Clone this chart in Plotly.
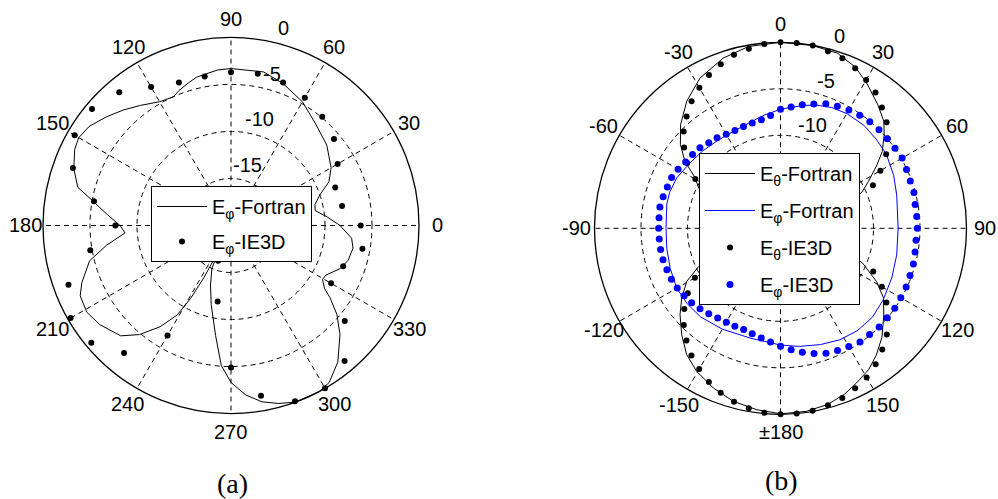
import math
import plotly.graph_objects as go

# ---------------- (a) data ----------------
a_fortran_theta = [0, 5, 10, 14, 19, 24, 30, 40, 50, 60, 70, 78, 90, 95, 103, 106, 111, 114, 120, 127,
                   133, 139, 145, 150, 154, 160, 166, 170, 175, 180, 184, 189, 194, 201, 205, 211, 217,
                   225, 230, 235, 239, 241, 242.5, 244, 246, 251, 256, 262, 266, 270, 275, 280, 285,
                   290, 298, 302, 308, 315, 320, 324, 326, 329.5, 332.5, 338.5, 343.5, 349.5, 354, 360]
a_fortran_db = [-8.4, -9.7, -10.9, -10.8, -10.0, -8.6, -7.7, -6.7, -5.95, -4.8, -3.9, -3.3, -3.3, -3.4,
                -3.8, -4.1, -4.6, -5.0, -4.8, -4.0, -3.2, -2.4, -1.6, -1.3, -1.5, -2.2, -3.2, -5.1,
                -6.8, -8.2, -8.7, -6.6, -4.5, -3.0, -2.3, -2.1, -2.5, -3.4, -4.85, -6.85, -8.9, -11.1,
                -13.7, -17.0, -15.0, -13.3, -11.3, -8.2, -5.1, -3.3, -1.9, -0.95, -0.4, 0.0, 0.0,
                -0.3, -1.55, -3.6, -5.3, -7.0, -8.0, -8.7, -8.6, -7.5, -7.0, -6.8, -7.1, -8.4]

a_ie3d_theta = list(range(0, 360, 10))
a_ie3d_db = [-6.2, -8.0, -8.2, -6.9, -5.7, -4.9, -4.3, -3.8, -3.6, -3.7, -3.9, -3.8, -3.0, -1.5,
             -0.7, -0.8, -2.1, -5.2, -7.7, -4.8, -1.6, -0.3, -0.6, -2.3, -6.5, -16.0, -11.8, -4.9,
             -1.6, -0.1, 0.0, -1.2, -4.2, -7.7, -7.3, -5.8]

a_theta_ticks = list(range(0, 360, 30))
a_theta_labels = [str(v) for v in a_theta_ticks]
a_r_label_vals = [-15, -10, -5, 0]

# ---------------- (b) data ----------------
b_theta_fortran_theta = [0, 10, 18, 25, 31, 38, 44, 48, 53, 57, 62, 66, 72, 80, 90, 100, 108, 113, 119,
                         124, 130, 137, 143, 148, 154, 159, 165, 172, 180, 187.5, 195.3, 202.8, 210.4,
                         216.6, 222.9, 229.3, 234.8, 240.5, 245, 252, 262, 270, 278, 288, 295.3, 301,
                         305, 310, 316, 323.6, 331.8, 341.4, 350, 360]
b_theta_fortran_db = [0.0, -0.05, -0.2, -0.9, -1.9, -3.05, -4.0, -5.0, -6.3, -7.7, -9.3, -10.4, -13.0,
                      -17.0, -20.0, -17.0, -13.0, -10.4, -8.2, -6.65, -5.5, -4.0, -2.9, -2.1, -1.45,
                      -0.87, -0.39, -0.12, -0.05, -0.33, -0.72, -1.37, -2.18, -3.08, -4.39, -5.75,
                      -7.0, -8.42, -10.3, -13.0, -17.0, -20.0, -17.0, -13.0, -10.4, -9.2, -7.45,
                      -5.95, -4.53, -3.02, -1.67, -0.69, -0.15, 0.0]

b_phi_fortran_theta = [0, 10, 16, 23, 30, 39, 47, 55, 65, 74, 90, 103, 114, 125, 134, 143, 152, 161,
                       171, 180, 195, 210, 222, 231, 240, 250, 260, 270, 282, 288, 296, 306, 315, 325,
                       335, 345, 352, 360]
b_phi_fortran_db = [-7.2, -6.6, -6.2, -5.9, -5.75, -5.75, -5.94, -6.1, -6.57, -7.0, -7.35, -7.18, -6.9,
                    -6.54, -6.25, -6.23, -6.42, -6.78, -7.14, -7.45, -7.75, -7.48, -7.17, -7.1, -7.12,
                    -7.38, -7.58, -7.69, -7.5, -7.47, -7.6, -8.0, -8.2, -8.4, -8.4, -8.1, -7.7, -7.2]

b_ie3d_theta = list(range(0, 360, 5))
b_theta_ie3d_db = [0.0, 0.0, -0.05, -0.29, -0.55, -1.01, -1.58, -2.19, -3.03, -3.87, -4.96, -6.13,
                   -7.6, -9.03, -11.5, -13.5, -16.0, -18.0, -19.0, -18.0, -16.0, -13.5, -11.5, -9.0,
                   -7.42, -6.1, -4.96, -3.84, -2.98, -2.16, -1.48, -1.01, -0.57, -0.29, -0.09, 0.0,
                   0.0, -0.1, -0.35, -0.68, -1.19, -1.77, -2.52, -3.3, -4.26, -5.29, -6.5, -7.83,
                   -9.37, -11.5, -13.5, -16.0, -18.0, -19.0, -19.0, -18.0, -16.0, -13.5, -11.5,
                   -11.2, -9.42, -7.76, -6.47, -5.27, -4.29, -3.33, -2.55, -1.8, -1.22, -0.68, -0.4,
                   -0.1]
b_phi_ie3d_db = [-7.2, -6.9, -6.5, -6.15, -5.75, -5.53, -5.3, -5.15, -5.06, -5.02, -5.02, -4.97, -4.9,
                 -5.05, -5.15, -5.15, -5.3, -5.3, -5.29, -5.37, -5.31, -5.21, -5.18, -5.09, -5.06,
                 -5.0, -5.05, -5.01, -5.1, -5.09, -5.31, -5.49, -5.7, -6.06, -6.48, -6.89, -7.31,
                 -7.74, -8.03, -8.25, -8.41, -8.39, -8.35, -8.23, -8.0, -7.76, -7.53, -7.34, -7.18,
                 -7.06, -7.0, -6.92, -6.91, -6.91, -6.9, -6.89, -6.83, -6.94, -7.05, -7.08, -7.29,
                 -7.55, -7.65, -7.75, -8.0, -8.11, -8.33, -8.41, -8.35, -8.29, -8.15, -7.82]

b_theta_ticks = list(range(0, 360, 30))
b_theta_labels = ["0", "30", "60", "90", "120", "150", "\u00b1180", "-150", "-120", "-90", "-60", "-30"]
b_r_label_vals = [-10, -5, 0]   # the -15 label is covered by the legend in the original

r_grid = [-15, -10, -5]
r_range = [-20, 0]

FONT = "Liberation Sans, Arial, sans-serif"
SERIF = "Liberation Serif, Times New Roman, serif"
BLUE = "#0000FF"
W, H = 998, 499
GRID_DASH = "5px,4px"

# polar frames: centre (px), radius (px)
A_CX, A_CY, A_R = 231, 225.5, 188
B_CX, B_CY, B_R = 780.5, 228.3, 186
ANG_LABEL_GAP = 18  # px beyond the outer circle

fig = go.Figure()

# (a)
fig.add_trace(go.Scatterpolar(r=a_fortran_db, theta=a_fortran_theta, mode="lines",
                              line=dict(color="black", width=1), legendgroup="a1",
                              name="E<sub>\u03c6</sub>-Fortran", subplot="polar", legend="legend"))
fig.add_trace(go.Scatterpolar(r=a_ie3d_db, theta=a_ie3d_theta, mode="markers",
                              marker=dict(color="black", size=6), legendgroup="a2",
                              name="E<sub>\u03c6</sub>-IE3D", subplot="polar", legend="legend"))

# (b)
fig.add_trace(go.Scatterpolar(r=b_theta_fortran_db, theta=b_theta_fortran_theta, mode="lines",
                              line=dict(color="black", width=1), legendgroup="b1",
                              name="E<sub>\u03b8</sub>-Fortran", subplot="polar2", legend="legend2"))
fig.add_trace(go.Scatterpolar(r=b_phi_fortran_db, theta=b_phi_fortran_theta, mode="lines",
                              line=dict(color=BLUE, width=1), legendgroup="b2",
                              name="E<sub>\u03c6</sub>-Fortran", subplot="polar2", legend="legend2"))
fig.add_trace(go.Scatterpolar(r=b_theta_ie3d_db, theta=b_ie3d_theta, mode="markers",
                              marker=dict(color="black", size=6), legendgroup="b3",
                              name="E<sub>\u03b8</sub>-IE3D", subplot="polar2", legend="legend2"))
fig.add_trace(go.Scatterpolar(r=b_phi_ie3d_db, theta=b_ie3d_theta, mode="markers",
                              marker=dict(color=BLUE, size=7), legendgroup="b4",
                              name="E<sub>\u03c6</sub>-IE3D", subplot="polar2", legend="legend2"))


def polar_layout(cx, cy, R, ticks, direction, rotation):
    return dict(
        domain=dict(x=[(cx - R) / W, (cx + R) / W], y=[1 - (cy + R) / H, 1 - (cy - R) / H]),
        bgcolor="white",
        radialaxis=dict(range=r_range, tickvals=r_grid, showticklabels=False, ticks="",
                        showline=False, showgrid=True, gridcolor="black", gridwidth=0.8,
                        griddash=GRID_DASH),
        angularaxis=dict(tickvals=ticks, direction=direction, rotation=rotation,
                         showticklabels=False, ticks="",
                         showline=True, linecolor="black", linewidth=1.3,
                         showgrid=True, gridcolor="black", gridwidth=0.8, griddash=GRID_DASH),
    )


def text_at(text, cx, cy, rpx, screen_deg):
    a = math.radians(screen_deg)
    return dict(text=text, x=(cx + rpx * math.cos(a)) / W, y=1 - (cy - rpx * math.sin(a)) / H,
                xref="paper", yref="paper", showarrow=False, xanchor="center", yanchor="middle",
                font=dict(family=FONT, size=20, color="black"))


def radial_px(val, R):
    return (val - r_range[0]) / (r_range[1] - r_range[0]) * R


annotations = []
# angular labels: (a) counter-clockwise from east, (b) clockwise from north
for t, lab in zip(a_theta_ticks, a_theta_labels):
    annotations.append(text_at(lab, A_CX, A_CY, A_R + ANG_LABEL_GAP, t))
for t, lab in zip(b_theta_ticks, b_theta_labels):
    annotations.append(text_at(lab, B_CX, B_CY, B_R + ANG_LABEL_GAP, 90 - t))
# radial labels just outside their rings
for v in a_r_label_vals:
    annotations.append(text_at(str(v), A_CX, A_CY, radial_px(v + 1.7, A_R), 75))
for v in b_r_label_vals:
    annotations.append(text_at(str(v), B_CX, B_CY, radial_px(v + 1.6, B_R), 73))
annotations += [
    dict(text="(a)", x=232 / W, y=1 - 483 / H, xref="paper", yref="paper", showarrow=False,
         xanchor="center", yanchor="middle", font=dict(family=SERIF, size=28, color="black")),
    dict(text="(b)", x=781 / W, y=1 - 480 / H, xref="paper", yref="paper", showarrow=False,
         xanchor="center", yanchor="middle", font=dict(family=SERIF, size=28, color="black")),
]

legend_common = dict(bgcolor="white", bordercolor="black", borderwidth=1,
                     font=dict(size=20, color="black", family=FONT), xanchor="left", yanchor="top",
                     itemwidth=50)

fig.update_layout(
    width=W, height=H,
    margin=dict(l=0, r=0, t=0, b=0),
    paper_bgcolor="white",
    font=dict(family=FONT, color="black"),
    polar=polar_layout(A_CX, A_CY, A_R, a_theta_ticks, "counterclockwise", 0),
    polar2=polar_layout(B_CX, B_CY, B_R, b_theta_ticks, "clockwise", 90),
    legend=dict(x=151 / W, y=1 - 186 / H, tracegroupgap=6, **legend_common),
    legend2=dict(x=699 / W, y=1 - 153 / H, tracegroupgap=8, **legend_common),
    annotations=annotations,
)

fig.write_html("out.html", config={"displayModeBar": False},
               post_script="document.body.style.margin='0';")
